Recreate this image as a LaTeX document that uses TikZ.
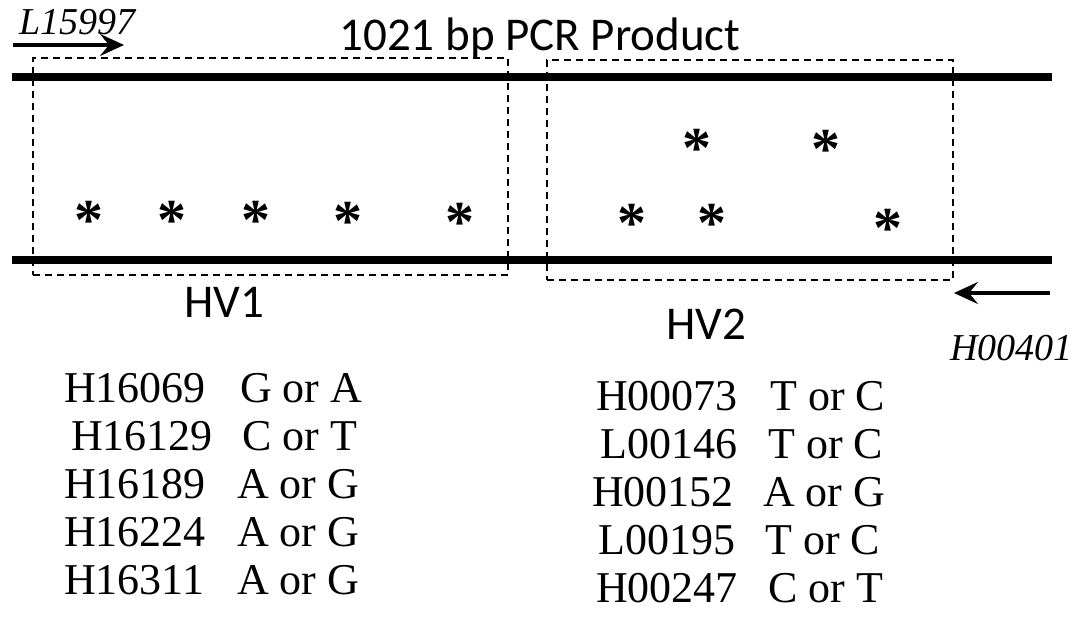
\documentclass[tikz,border=0pt]{standalone}
\usepackage{fontspec}
\setmainfont{Liberation Serif}
\newfontfamily\labelfont{Carlito}
\usetikzlibrary{arrows.meta,positioning}

\begin{document}
\begin{tikzpicture}[
    x=1pt, y=-1pt,
    strand/.style={line width=8pt},
    region/.style={rectangle, draw, line width=1.4pt, dash pattern=on 7pt off 5pt, inner sep=0pt},
    snp/.style={anchor=base, inner sep=0pt, font=\fontsize{58}{58}\selectfont\bfseries},
    primer/.style={-{Stealth[length=24pt,width=22pt,inset=9pt]}, line width=3.5pt},
    primername/.style={inner sep=0pt, anchor=base west, font=\fontsize{38}{38}\selectfont\itshape},
    title/.style={inner sep=0pt, font=\labelfont\fontsize{47}{47}\selectfont},
    site/.style={inner sep=0pt, anchor=base west, font=\fontsize{44}{44}\selectfont}
]
    \useasboundingbox (0,0) rectangle (1079,618);

    % strands of the product
    \coordinate (topl) at (12,77);
    \coordinate (topr) at (1052,77);
    \coordinate (botl) at (12,260);
    \coordinate (botr) at (1052,260);
    \draw[strand] (topl) -- (topr);
    \draw[strand] (botl) -- (botr);

    \node[title] (product) at (540,38) {1021 bp PCR Product};

    % primers
    \coordinate (fwdstart) at (13,45);
    \coordinate (fwdend) at (124,45);
    \draw[primer] (fwdstart) -- (fwdend);
    \node[primername] (fwdname) at (19,35) {L15997};
    \coordinate (revstart) at (1050,293);
    \coordinate (revend) at (954,293);
    \draw[primer] (revstart) -- (revend);
    \node[primername] (revname) at (950,360) {H00401};

    % hypervariable regions
    \node[region, minimum width=475pt, minimum height=217pt] (hvonebox) at (270.5,166.5) {};
    \node[region, minimum width=406pt, minimum height=220pt] (hvtwobox) at (750,170) {};
    \node[title] (hvone) at (224,302) {HV1};
    \node[title] (hvtwo) at (706,324) {HV2};

    % variable sites
    \node[snp] (s1) at (89,239) {*};
    \node[snp] (s2) at (172,239) {*};
    \node[snp] (s3) at (256,239) {*};
    \node[snp] (s4) at (348,240) {*};
    \node[snp] (s5) at (460,241) {*};
    \node[snp] (s6) at (697,167) {*};
    \node[snp] (s7) at (826,168) {*};
    \node[snp] (s8) at (632,242) {*};
    \node[snp] (s9) at (712,242) {*};
    \node[snp] (s10) at (888,247) {*};

    % HV1 table
    \node[site] (a1) at (64,402) {H16069};
    \node[site] (b1) at (240,402) {G or A};
    \node[site] (a2) at (71,450) {H16129};
    \node[site] (b2) at (242,450) {C or T};
    \node[site] (a3) at (64,498) {H16189};
    \node[site] (b3) at (237,498) {A or G};
    \node[site] (a4) at (64,546) {H16224};
    \node[site] (b4) at (237,546) {A or G};
    \node[site] (a5) at (64,594) {H16311};
    \node[site] (b5) at (237,594) {A or G};

    % HV2 table
    \node[site] (c1) at (596,410) {H00073};
    \node[site] (d1) at (770,410) {T or C};
    \node[site] (c2) at (600,458) {L00146};
    \node[site] (d2) at (768,458) {T or C};
    \node[site] (c3) at (592,506) {H00152};
    \node[site] (d3) at (763,506) {A or G};
    \node[site] (c4) at (598,554) {L00195};
    \node[site] (d4) at (765,554) {T or C};
    \node[site] (c5) at (596,602) {H00247};
    \node[site] (d5) at (768,602) {C or T};
\end{tikzpicture}
\end{document}
